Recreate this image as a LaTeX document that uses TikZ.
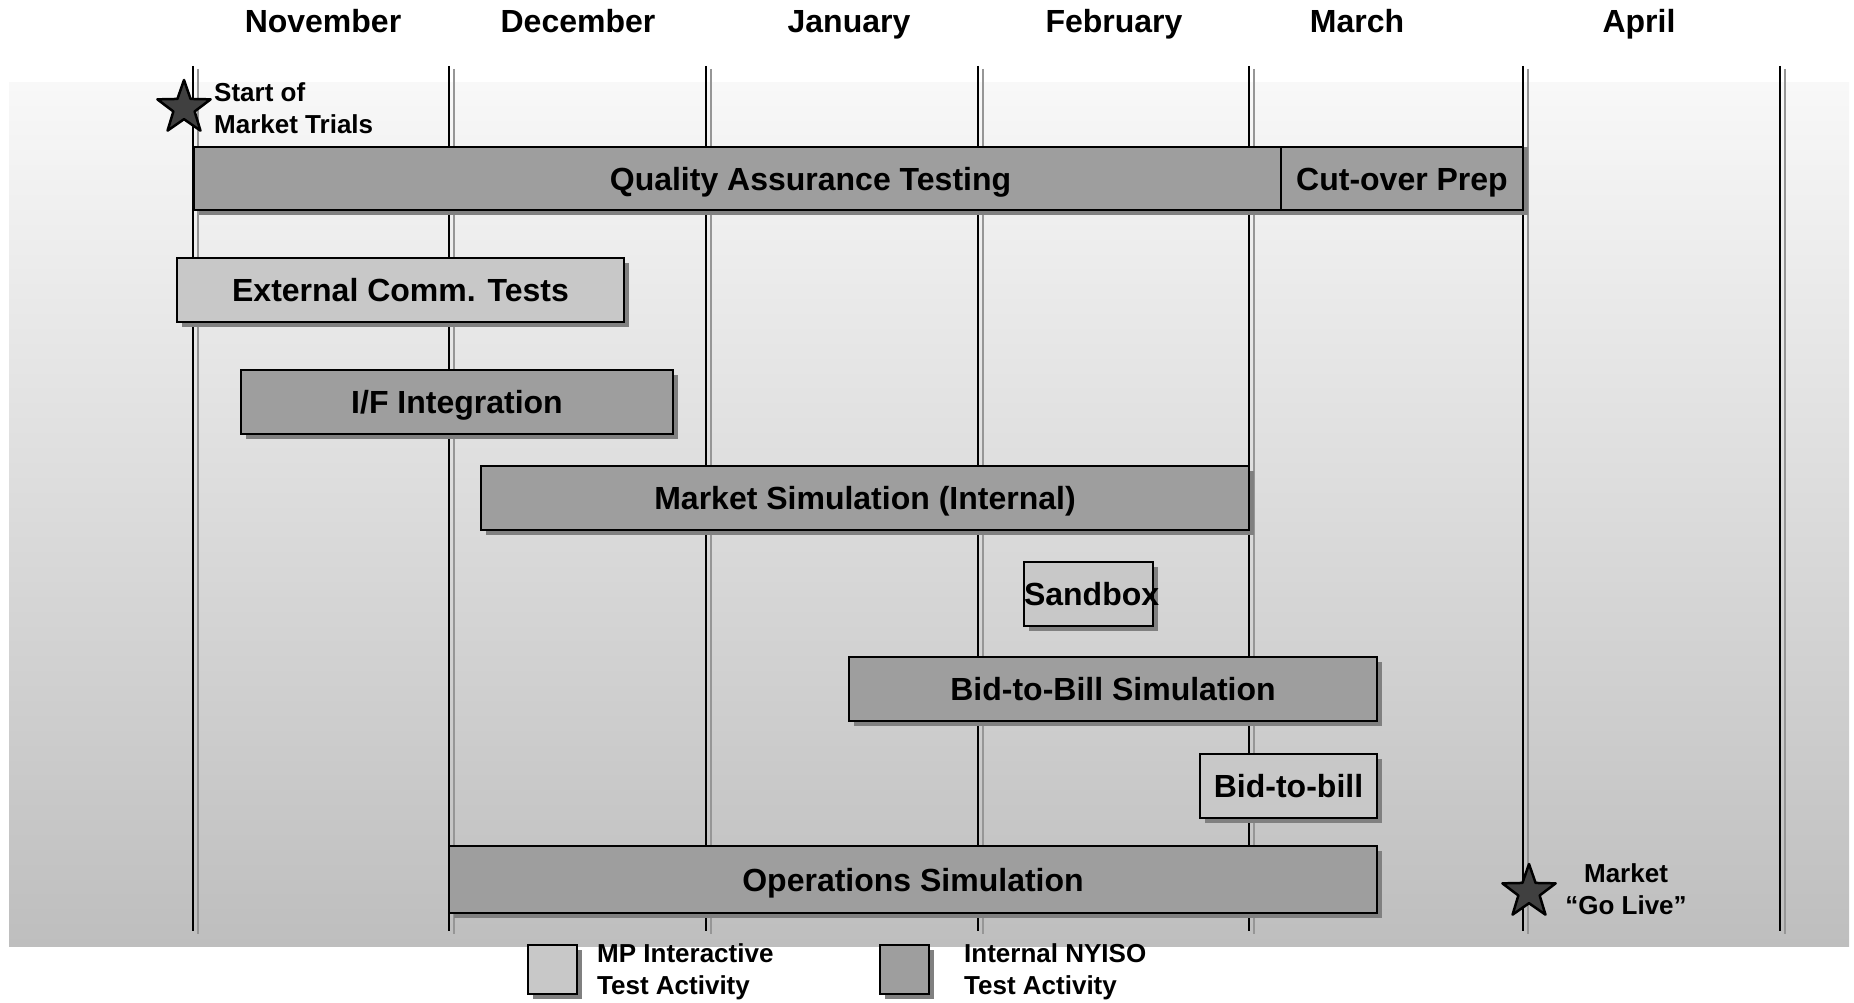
\documentclass[tikz,border=0pt]{standalone}
\usepackage{fontspec}
\setmainfont{Liberation Sans}
\usepackage{xcolor}
\usetikzlibrary{shapes.geometric, shadows}

\definecolor{bgtop}{RGB}{248,248,248}
\definecolor{bgbot}{RGB}{190,190,190}
\definecolor{bardark}{RGB}{158,158,158}
\definecolor{barlight}{RGB}{200,200,200}
\definecolor{barshadow}{RGB}{128,128,128}
\definecolor{linegray}{RGB}{150,150,150}
\definecolor{starfill}{RGB}{64,64,64}

\begin{document}
\begin{tikzpicture}[x=1pt, y=-1pt,
  bigfont/.style={font=\fontsize{32}{38}\selectfont\bfseries},
  smallfont/.style={font=\fontsize{26}{32}\selectfont\bfseries, inner sep=0pt},
  taskbar/.style={draw=black, line width=2pt, inner sep=0pt, bigfont,
    text height=23pt, text depth=0pt,
    drop shadow={shadow xshift=5pt, shadow yshift=-5pt, fill=barshadow, opacity=1}},
  darkbar/.style={taskbar, fill=bardark},
  lightbar/.style={taskbar, fill=barlight},
  milestone/.style={star, star points=5, star point ratio=2.5, minimum size=56pt,
    inner sep=0pt, fill=starfill, draw=black, line width=2.5pt, line join=round}]
  \useasboundingbox (0,0) rectangle (1854,1003);

  % Background
  \shade[top color=bgtop, bottom color=bgbot] (9,83) rectangle (1849,946);

  % Month boundaries (black line with a grey twin)
  \foreach \mx in {193,449,706,978,1249,1523,1780} {
    \draw[line width=2pt] (\mx,66) -- (\mx,931);
    \draw[line width=2pt, linegray] (\mx+5,69) -- (\mx+5,934);
  }

  % Month labels
  \foreach \mname/\mx in {November/323, December/578, January/849,
                          February/1114, March/1357, April/1639}
    \node[bigfont, text height=23pt, text depth=0pt] (lbl\mname) at (\mx,21) {\mname};

  % Activities
  \node[darkbar, minimum width=1233pt, minimum height=63pt] (qa) at (810.5,178.5) {Quality Assurance Testing};
  \node[darkbar, minimum width=242pt, minimum height=63pt,
        drop shadow={shadow xshift=5pt, shadow yshift=0pt, fill=barshadow, opacity=1}]
        (cutover) at (1402,178.5) {Cut-over Prep};
  \node[lightbar, minimum width=447pt, minimum height=64pt] (extcomm) at (400.5,290) {External Comm. Tests};
  \node[darkbar, minimum width=432pt, minimum height=64pt] (ifint) at (457,402) {I/F Integration};
  \node[darkbar, minimum width=768pt, minimum height=64pt] (mktsim) at (865,498) {Market Simulation (Internal)};
  \node[lightbar, text width=129pt, align=center, minimum height=64pt] (sandbox) at (1088.5,594) {Sandbox};
  \node[darkbar, minimum width=528pt, minimum height=64pt] (bidsim) at (1113,689) {Bid-to-Bill Simulation};
  \node[lightbar, minimum width=177pt, minimum height=64pt] (bidbill) at (1288.5,786) {Bid-to-bill};
  \node[darkbar, minimum width=928pt, minimum height=67pt] (opsim) at (913,879.5) {Operations Simulation};

  % Milestones
  \node[milestone] (startstar) at (184,108) {};
  \node[smallfont, align=left, anchor=west] (startlbl) at (214,108) {Start of\\Market Trials};
  \node[milestone] (livestar) at (1529,892) {};
  \node[smallfont, align=center] (livelbl) at (1626,889) {Market\\“Go Live”};

  % Legend
  \node[lightbar, minimum size=49pt] (mpkey) at (552.5,969.5) {};
  \node[smallfont, align=left, anchor=west] (mptext) at (597,972) {MP Interactive\\Test Activity};
  \node[darkbar, minimum size=49pt] (nyisokey) at (904.5,969.5) {};
  \node[smallfont, align=left, anchor=west] (nyisotext) at (964,972) {Internal NYISO\\Test Activity};
\end{tikzpicture}
\end{document}
